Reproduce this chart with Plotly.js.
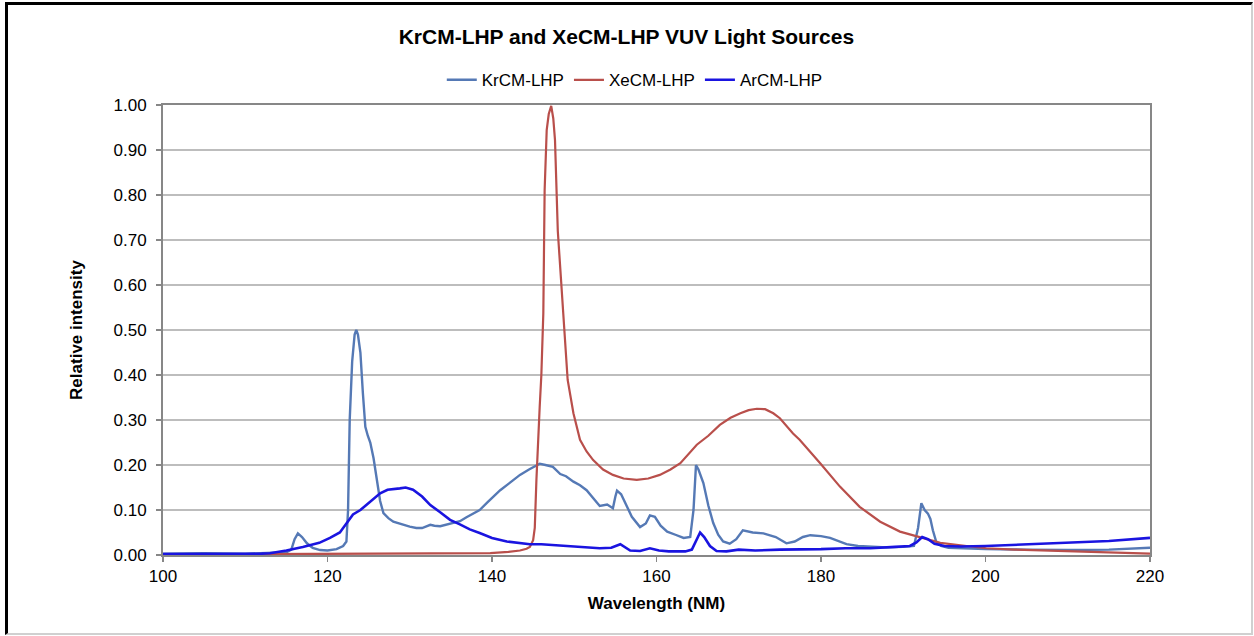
<!DOCTYPE html>
<html>
<head>
<meta charset="utf-8">
<script src="https://cdn.plot.ly/plotly-3.0.1.min.js"></script>
<style>
  html, body { margin: 0; padding: 0; background: #fff; }
  #wrap { position: relative; width: 1254px; height: 636px; }
  #chart { width: 1254px; height: 636px; }
  #frame { position: absolute; left: 5px; top: 2px; width: 1248px; height: 633px; box-sizing: border-box;
           border-left: 3px solid #000; border-top: 3px solid #000; border-right: 2px solid #d0d0d0; border-bottom: 2px solid #d0d0d0;
           pointer-events: none; }
</style>
</head>
<body>
<div id="wrap">
  <div id="chart"></div>
  <div id="frame"></div>
</div>
<script>
const krX = [100,105,110,113,115,115.6,116,116.4,116.9,117.5,118.2,119.1,120,121.1,121.9,122.3,122.5,122.7,123,123.3,123.5,123.7,124,124.3,124.6,124.9,125.2,125.6,126,126.4,126.8,127.4,128,129,130,130.8,131.5,132.5,133,133.7,134.9,136.1,136.9,137.5,138.5,139.5,141,142,143.4,144.5,145.8,146.5,147.4,148.3,149,149.9,150.7,151.5,152.3,153.1,154,154.7,155,155.2,155.7,156.4,157,158,158.7,159.2,159.8,160.5,161.3,162.3,163.3,164.1,164.5,164.8,165.1,165.7,166.3,166.9,167.5,168.1,168.9,169.7,170.5,171.7,173,174.5,175.8,176.8,177.8,178.7,180,181.1,182.2,183.1,184.5,186,188,190,191.3,191.8,192.2,192.6,193,193.3,193.6,194,194.6,195.5,197,200,205,210,215,220];
const krY = [0.003,0.004,0.003,0.004,0.006,0.012,0.035,0.048,0.04,0.026,0.016,0.011,0.01,0.013,0.02,0.03,0.1,0.3,0.43,0.49,0.5,0.49,0.45,0.36,0.285,0.265,0.25,0.215,0.167,0.12,0.093,0.082,0.074,0.068,0.063,0.06,0.06,0.067,0.065,0.064,0.07,0.075,0.084,0.09,0.1,0.118,0.144,0.158,0.178,0.19,0.203,0.2,0.196,0.18,0.175,0.163,0.155,0.144,0.127,0.109,0.112,0.104,0.13,0.143,0.135,0.107,0.085,0.062,0.07,0.088,0.085,0.065,0.052,0.045,0.038,0.04,0.1,0.2,0.19,0.16,0.11,0.071,0.045,0.03,0.025,0.035,0.055,0.05,0.048,0.04,0.026,0.03,0.04,0.044,0.042,0.038,0.03,0.024,0.02,0.018,0.017,0.018,0.02,0.06,0.115,0.1,0.092,0.08,0.055,0.03,0.02,0.016,0.015,0.013,0.012,0.011,0.012,0.016];

const xeX = [100,110,120,130,135,139.8,142,143.4,144.2,144.6,145,145.2,145.4,145.6,145.8,146,146.24,146.4,146.65,146.9,147.2,147.45,147.66,148,148.3,148.6,149.2,149.9,150.7,151.5,152.3,153.5,154.7,156,157.6,159,160.4,161.7,162.9,164.9,166.3,167.7,169,170.2,171.2,172.2,173.2,174.2,175,176.6,177.4,179.9,182.3,184.7,187.2,189.6,192,194.5,197.7,200.1,203.5,207.4,212,216,220];
const xeY = [0.001,0.002,0.002,0.003,0.003,0.004,0.007,0.01,0.014,0.018,0.033,0.06,0.167,0.26,0.33,0.4,0.537,0.811,0.944,0.98,0.998,0.97,0.922,0.72,0.64,0.573,0.389,0.315,0.256,0.23,0.211,0.19,0.178,0.17,0.167,0.17,0.178,0.19,0.204,0.245,0.265,0.289,0.305,0.315,0.322,0.325,0.324,0.315,0.304,0.27,0.256,0.204,0.152,0.107,0.074,0.052,0.04,0.027,0.02,0.015,0.012,0.01,0.007,0.005,0.003];

const arX = [100,105,110,112,113,115,117,119,120.3,121.5,122.3,123.1,124,125.2,126.4,127.3,128,128.8,129.5,130.4,131.5,132.5,133.7,134.9,136.1,137.3,138.5,140,141.8,143,144.6,146,147.5,149.1,151,153.1,154.5,155.6,156.8,158,159.2,160.3,161.5,163.5,164.3,164.8,165.3,165.8,166.5,167.3,168.5,170,172,175,178,180,183,186,189,190.8,191.6,192.3,193,193.8,195,197,200,203,206,210,215,220];
const arY = [0.002,0.002,0.002,0.003,0.004,0.01,0.018,0.027,0.038,0.05,0.07,0.09,0.1,0.118,0.137,0.145,0.146,0.148,0.15,0.145,0.13,0.111,0.095,0.078,0.068,0.057,0.049,0.038,0.03,0.027,0.024,0.024,0.022,0.021,0.019,0.015,0.016,0.024,0.01,0.009,0.015,0.01,0.008,0.008,0.012,0.03,0.05,0.04,0.02,0.009,0.008,0.012,0.01,0.012,0.012,0.013,0.015,0.015,0.018,0.02,0.028,0.04,0.035,0.025,0.02,0.019,0.02,0.022,0.025,0.027,0.031,0.038];

const seriesNames = ['KrCM-LHP', 'XeCM-LHP', 'ArCM-LHP'];
const yTickVals = [0,0.1,0.2,0.3,0.4,0.5,0.6,0.7,0.8,0.9,1.0];
const xTickVals = [100,120,140,160,180,200,220];

const font = 'Liberation Sans, Arial, sans-serif';
const traces = [
  {x: krX, y: krY, name: seriesNames[0], type: 'scatter', mode: 'lines', line: {color: '#5579B5', width: 2.4}},
  {x: xeX, y: xeY, name: seriesNames[1], type: 'scatter', mode: 'lines', line: {color: '#B94F4B', width: 2.2}},
  {x: arX, y: arY, name: seriesNames[2], type: 'scatter', mode: 'lines', line: {color: '#1A14E0', width: 2.6}}
];

const layout = {
  width: 1254, height: 636,
  margin: {l: 163, r: 104, t: 105, b: 81},
  paper_bgcolor: '#fff', plot_bgcolor: '#fff',
  font: {family: font, color: '#000', size: 17},
  title: {text: '<b>KrCM-LHP and XeCM-LHP VUV Light Sources</b>', x: 0.4995, xanchor: 'center', y: 0.943, yanchor: 'middle', font: {family: font, size: 21, color: '#000'}},
  showlegend: true,
  legend: {orientation: 'h', x: 0.478, xanchor: 'center', y: 1.055, yanchor: 'middle', font: {family: font, size: 17}, itemwidth: 30, tracegroupgap: 0, bgcolor: 'rgba(0,0,0,0)'},
  xaxis: {
    range: [100, 220], tickvals: xTickVals, ticktext: xTickVals.map(String),
    showgrid: false, zeroline: false, showline: true, mirror: true, linecolor: '#878787', linewidth: 2,
    ticks: 'outside', ticklen: 5, tickcolor: '#878787', tickwidth: 1.5,
    tickfont: {family: font, size: 17, color: '#000'},
    title: {text: '<b>Wavelength (NM)</b>', font: {family: font, size: 17, color: '#000'}, standoff: 12}
  },
  yaxis: {
    range: [0, 1], tickvals: yTickVals, ticktext: yTickVals.map(v => v.toFixed(2)),
    showgrid: true, gridcolor: '#BDBDBD', gridwidth: 1.6, zeroline: false,
    showline: true, mirror: true, linecolor: '#878787', linewidth: 2,
    ticks: 'outside', ticklen: 5, tickcolor: '#878787', tickwidth: 1.5, ticklabelstandoff: 6,
    tickfont: {family: font, size: 17, color: '#000'},
    title: {text: '<b>Relative intensity</b>', font: {family: font, size: 17, color: '#000'}, standoff: 27}
  }
};

Plotly.newPlot('chart', traces, layout, {displayModeBar: false, staticPlot: true});
</script>
</body>
</html>
